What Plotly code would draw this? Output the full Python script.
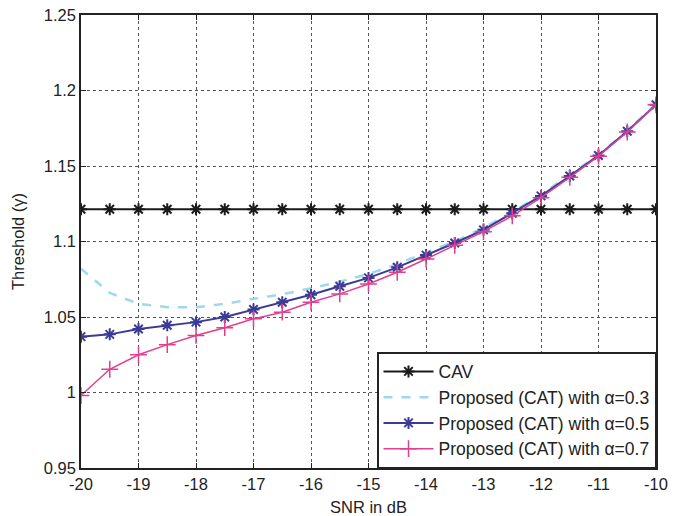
import plotly.graph_objects as go

snr = [-20, -19.5, -19, -18.5, -18, -17.5, -17, -16.5, -16, -15.5, -15,
       -14.5, -14, -13.5, -13, -12.5, -12, -11.5, -11, -10.5, -10]
cav = [1.1214] * 21
a03 = [1.082, 1.066, 1.0587, 1.0565, 1.0565, 1.0587, 1.062, 1.065, 1.069, 1.0734,
       1.0785, 1.085, 1.0928, 1.100, 1.109, 1.1195, 1.131, 1.144, 1.1575, 1.1735, 1.191]
a05 = [1.037, 1.0385, 1.042, 1.0445, 1.0466, 1.050, 1.055, 1.0598, 1.0647, 1.0704,
       1.0759, 1.0829, 1.091, 1.099, 1.1077, 1.1187, 1.1302, 1.1434, 1.157, 1.173, 1.1906]
a07 = [0.998, 1.0154, 1.025, 1.0317, 1.0378, 1.0429, 1.0488, 1.0532, 1.0598, 1.0653,
       1.0719, 1.0796, 1.0884, 1.0975, 1.1065, 1.117, 1.129, 1.1425, 1.1565, 1.1725, 1.1905]

names = ["CAV", "Proposed (CAT) with α=0.3", "Proposed (CAT) with α=0.5",
         "Proposed (CAT) with α=0.7"]

xticks = [-20, -19, -18, -17, -16, -15, -14, -13, -12, -11, -10]
yticks = [0.95, 1, 1.05, 1.1, 1.15, 1.2, 1.25]
yticklabels = ["0.95", "1", "1.05", "1.1", "1.15", "1.2", "1.25"]

FONT = "Liberation Sans, Arial, sans-serif"

fig = go.Figure()
fig.add_trace(go.Scatter(
    x=snr, y=cav, name=names[0], mode="lines+markers",
    line=dict(color="#1a1a1a", width=2),
    marker=dict(symbol="asterisk-open", size=10, color="#1a1a1a",
                line=dict(width=2, color="#1a1a1a"))))
fig.add_trace(go.Scatter(
    x=snr, y=a03, name=names[1], mode="lines",
    line=dict(color="#9fd8ea", width=2.5, dash="dash")))
fig.add_trace(go.Scatter(
    x=snr, y=a05, name=names[2], mode="lines+markers",
    line=dict(color="#3b3b96", width=2),
    marker=dict(symbol="asterisk-open", size=10, color="#3b3b96",
                line=dict(width=2, color="#3b3b96"))))
fig.add_trace(go.Scatter(
    x=snr, y=a07, name=names[3], mode="lines+markers",
    line=dict(color="#e0408f", width=1.5),
    marker=dict(symbol="cross-thin-open", size=12, color="#e0408f",
                line=dict(width=1.5, color="#e0408f"))))

axis_common = dict(
    showline=True, linecolor="#222", linewidth=1.5, mirror="ticks",
    ticks="inside", ticklen=5, tickcolor="#222", tickwidth=1.2,
    showgrid=True, gridcolor="#555", griddash="dot", gridwidth=1,
    zeroline=False, tickfont=dict(family=FONT, size=16.5, color="#222"),
    automargin=False,
)

fig.update_xaxes(range=[-20, -10], tickvals=xticks,
                 ticktext=[str(v) for v in xticks],
                 title=dict(text="SNR in dB", font=dict(family=FONT, size=16.5, color="#222")),
                 **axis_common)
fig.update_yaxes(range=[0.95, 1.25], tickvals=yticks, ticktext=yticklabels,
                 title=dict(text="Threshold (γ)", font=dict(family=FONT, size=16.5, color="#222")),
                 **axis_common)

fig.update_layout(
    width=689, height=516,
    margin=dict(l=81, r=33, t=15, b=48),
    plot_bgcolor="white", paper_bgcolor="white",
    font=dict(family=FONT, size=16.5, color="#222"),
    legend=dict(x=1, y=0, xanchor="right", yanchor="bottom",
                bgcolor="white", bordercolor="#222", borderwidth=1.5,
                font=dict(family=FONT, size=17.5, color="#222"),
                itemwidth=50, tracegroupgap=0),
    showlegend=True,
)

fig.write_html("out.html")
